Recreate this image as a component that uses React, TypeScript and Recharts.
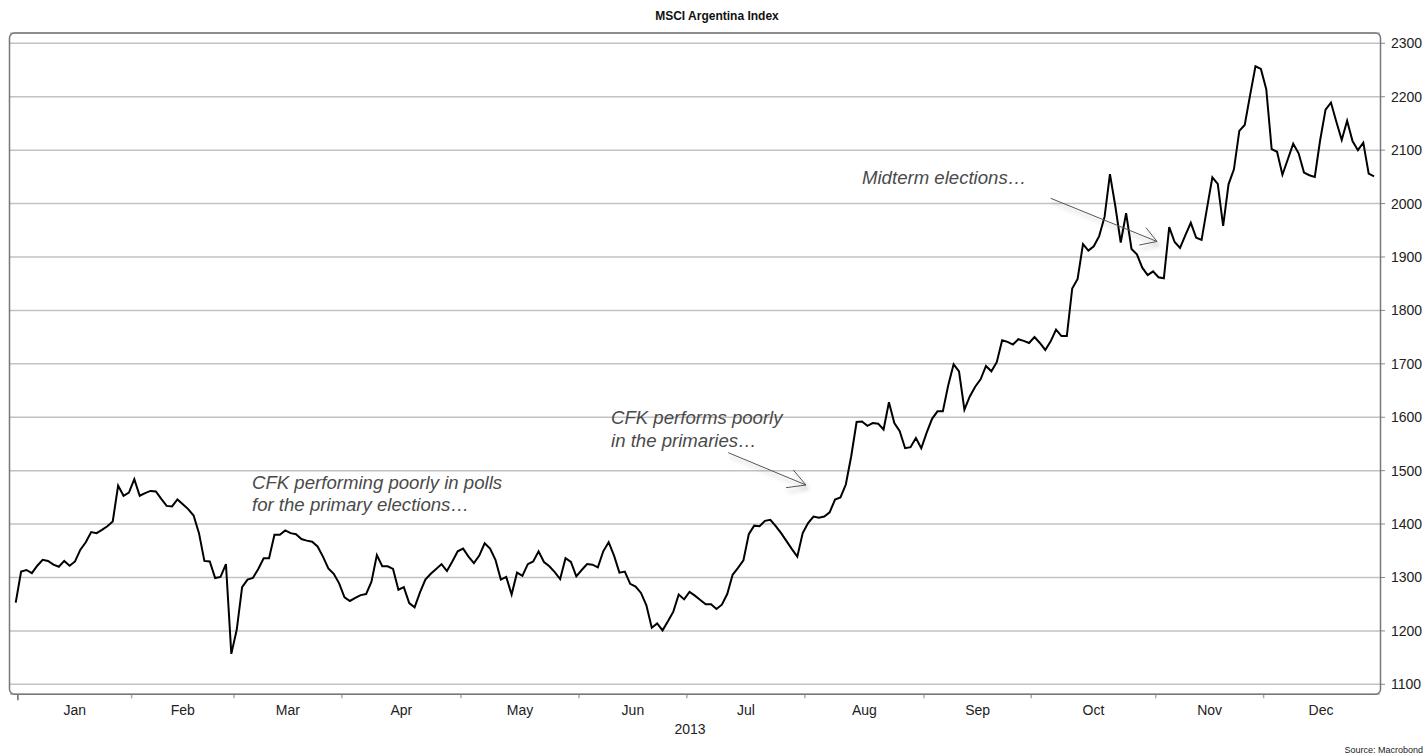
import { LineChart, Line, XAxis, YAxis, CartesianGrid } from 'recharts';

// MSCI Argentina Index, 2013, one value per trading day
const msciValues = [
  1253, 1311, 1314, 1308, 1322, 1333, 1331, 1324, 1320, 1331,
  1322, 1330, 1352, 1366, 1385, 1383, 1389, 1396, 1405, 1472,
  1453, 1459, 1484, 1453, 1458, 1462, 1461, 1447, 1434, 1433,
  1446, 1437, 1428, 1416, 1383, 1331, 1330, 1299, 1301, 1325,
  1157, 1202, 1282, 1296, 1299, 1316, 1336, 1336, 1380, 1380,
  1388, 1383, 1381, 1372, 1369, 1367, 1358, 1339, 1317, 1307,
  1289, 1263, 1256, 1262, 1267, 1269, 1292, 1342, 1321, 1321,
  1316, 1277, 1282, 1252, 1244, 1272, 1296, 1307, 1316, 1325,
  1312, 1330, 1349, 1354, 1339, 1327, 1341, 1364, 1354, 1333,
  1296, 1301, 1268, 1309, 1303, 1325, 1330, 1349, 1329, 1321,
  1310, 1297, 1336, 1329, 1302, 1314, 1325, 1324, 1319, 1349,
  1366, 1341, 1309, 1311, 1288, 1283, 1271, 1248, 1206, 1214,
  1201, 1218, 1236, 1268, 1259, 1273, 1266, 1258, 1250, 1250,
  1241, 1249, 1269, 1305, 1318, 1332, 1381, 1397, 1396, 1406,
  1408, 1396, 1383, 1368, 1353, 1339, 1383, 1402, 1414, 1412,
  1414, 1422, 1446, 1450, 1474, 1527, 1591, 1592, 1584, 1589,
  1588, 1577, 1628, 1589, 1574, 1542, 1544, 1561, 1542, 1571,
  1597, 1611, 1611, 1660, 1699, 1686, 1614, 1639, 1657, 1671,
  1696, 1686, 1703, 1744, 1741, 1736, 1746, 1743, 1739, 1750,
  1739, 1726, 1742, 1764, 1752, 1752, 1841, 1859, 1924, 1912,
  1920, 1939, 1975, 2055, 1995, 1927, 1982, 1915, 1905, 1880,
  1866, 1873, 1862, 1860, 1956, 1928, 1917, 1941, 1964, 1936,
  1932, 1991, 2049, 2037, 1958, 2036, 2064, 2136, 2147, 2203,
  2257, 2252, 2214, 2102, 2097, 2054, 2083, 2112, 2094, 2058,
  2053, 2050, 2119, 2176, 2189, 2153, 2119, 2155, 2117, 2100,
  2114, 2056, 2051,
];

const monthLabels = ['Jan', 'Feb', 'Mar', 'Apr', 'May', 'Jun', 'Jul', 'Aug', 'Sep', 'Oct', 'Nov', 'Dec'];
// month boundaries in trading-day units (last one = end of year)
const monthStarts = [0.4, 21.5, 40.5, 60.5, 82.6, 104.5, 124.5, 146.4, 168.5, 188.4, 211.5, 231.5, 252.8];
const yTicks = [1100, 1200, 1300, 1400, 1500, 1600, 1700, 1800, 1900, 2000, 2100, 2200, 2300];

const data = msciValues.map((value, day) => ({ day, value }));
const monthMids = monthLabels.map((_, i) => (monthStarts[i] + monthStarts[i + 1]) / 2);
const xTicks = [...monthStarts.slice(0, 12), ...monthMids];

const FONT = '"Liberation Sans", Arial, Helvetica, sans-serif';

function MonthTick(props: any) {
  const { x, y, payload } = props;
  const idx = monthMids.indexOf(payload.value);
  if (idx >= 0) {
    return (
      <text x={x} y={y + 21} textAnchor="middle" fontSize={14} fill="#222" fontFamily={FONT}>
        {monthLabels[idx]}
      </text>
    );
  }
  const first = payload.value === monthStarts[0];
  return <line x1={x} x2={x} y1={y} y2={y + (first ? 6 : 4)} stroke={first ? '#666' : '#aaa'} strokeWidth={1.5} />;
}

export default function App() {
  return (
    <div style={{ position: 'absolute', left: 0, top: 0, width: 1428, height: 756, background: '#fff' }}>
      <LineChart width={1428} height={756} data={data} margin={{ top: 33, right: 0, bottom: 0, left: 10 }}>
        <CartesianGrid vertical={false} stroke="#c2c2c2" strokeWidth={1.5} />
        <XAxis
          dataKey="day"
          type="number"
          domain={[-1.06, 253.1]}
          allowDataOverflow
          ticks={xTicks}
          interval={0}
          tick={<MonthTick />}
          tickLine={false}
          axisLine={false}
          tickSize={0}
          tickMargin={0}
          height={61.7}
        />
        <YAxis
          orientation="right"
          type="number"
          domain={[1081.3, 2319.3]}
          allowDataOverflow
          ticks={yTicks}
          interval={0}
          width={48}
          axisLine={false}
          stroke="#888"
          tickSize={5}
          tickMargin={6}
          tick={{ fill: '#222', fontSize: 14, fontFamily: FONT }}
        />
        <Line type="linear" dataKey="value" stroke="#000" strokeWidth={2} dot={false} isAnimationActive={false} />
      </LineChart>

      <svg width={1428} height={756} style={{ position: 'absolute', left: 0, top: 0, pointerEvents: 'none' }}>
        <defs>
          <filter id="shadow" x="-20%" y="-50%" width="140%" height="200%">
            <feDropShadow dx="2" dy="4" stdDeviation="2" floodColor="#000" floodOpacity="0.3" />
          </filter>
        </defs>
        <rect x={9.5} y={33} width={1371} height={661.3} rx={5} fill="none" stroke="#777" strokeWidth={1.5} />
        <text x={717} y={20} textAnchor="middle" fontSize={12} fontWeight="bold" fill="#111" fontFamily={FONT}>
          MSCI Argentina Index
        </text>

        <g fontFamily={FONT} fontSize={18.6} fontStyle="italic" fill="#4a4a4a">
          <text x={252} y={489}>CFK performing poorly in polls</text>
          <text x={252} y={510.5}>for the primary elections…</text>
          <text x={611} y={424}>CFK performs poorly</text>
          <text x={611} y={446.5}>in the primaries…</text>
          <text x={862} y={184}>Midterm elections…</text>
        </g>

        <g stroke="#555" strokeWidth={1} fill="none" filter="url(#shadow)">
          <line x1={728.3} y1={452.7} x2={806} y2={485} />
          <polyline points="793.3,470 806,485 786,487.7" />
          <line x1={1050.7} y1={198.3} x2={1157} y2={241.5} />
          <polyline points="1146,227.7 1157,241.5 1139.3,245" />
        </g>

        <text x={690} y={734} textAnchor="middle" fontSize={14} fill="#222" fontFamily={FONT}>
          2013
        </text>
        <text x={1423} y={753} textAnchor="end" fontSize={9} fill="#222" fontFamily={FONT}>
          Source: Macrobond
        </text>
      </svg>
    </div>
  );
}
